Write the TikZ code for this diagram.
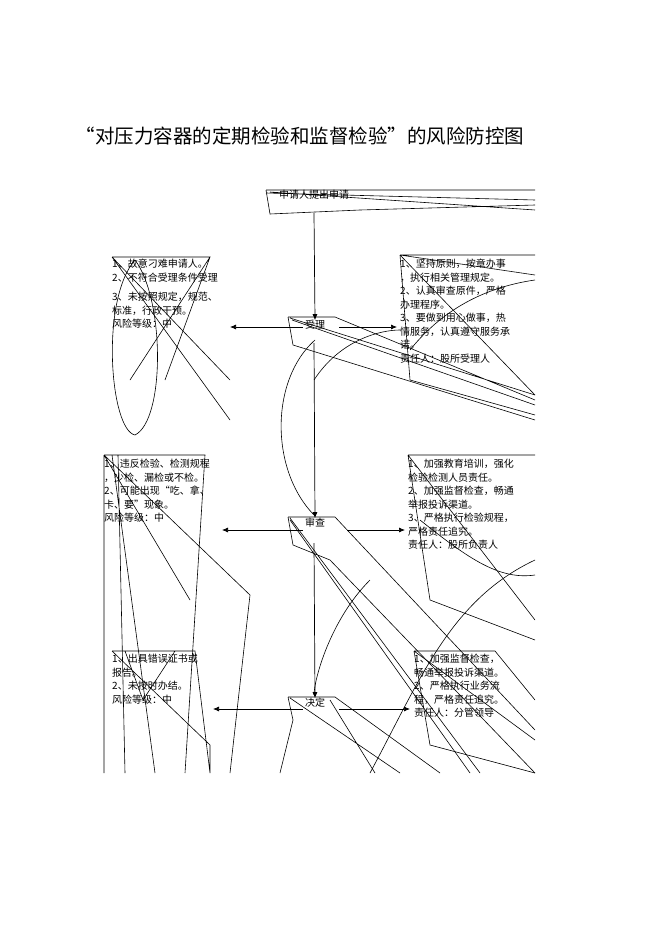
\documentclass[tikz,border=0pt]{standalone}
\usepackage{fontspec}
\setmainfont{Liberation Serif}
\newfontfamily\cjk{Noto Sans CJK SC}
\usetikzlibrary{positioning, arrows.meta}
\tikzset{
  step box/.style={inner sep=0, font=\cjk\fontsize{10}{12}\selectfont},
  risk text/.style={inner sep=0, anchor=north west, align=left,
    font=\cjk\fontsize{10}{13.5}\selectfont},
  flow/.style={-{Latex[length=6pt,width=5pt]}, line width=0.7pt},
  stray/.style={line width=0.6pt}
}
\begin{document}
\begin{tikzpicture}[x=1pt,y=-1pt]
\useasboundingbox (0,0) rectangle (662,936);

\node[inner sep=0, font=\cjk\fontsize{19.5}{21}\selectfont] (title) at (300,136)
  {“对压力容器的定期检验和监督检验”的风险防控图};

% flow steps
\node[step box] (apply) at (314,195) {申请人提出申请};
\node[step box] (accept) at (315,325) {受理};
\node[step box] (review) at (315,523) {审查};
\node[step box] (decide) at (315,703) {决定};

% risk points (left)
\node[risk text] (risk1) at (112,259) {1、故意刁难申请人。\\2、不符合受理条件受理\\[6pt]3、未按照规定，规范、\\标准，行政干预。\\风险等级：中};
\node[risk text] (risk2) at (104,459) {1、违反检验、检测规程\\，少检、漏检或不检。\\2、可能出现“吃、拿、\\卡、要”现象。\\风险等级：中};
\node[risk text] (risk3) at (112,654) {1、出具错误证书或\\报告。\\2、未按时办结。\\风险等级：中};

% control measures (right)
\node[risk text] (ctrl1) at (400,259) {1、坚持原则，按章办事\\，执行相关管理规定。\\2、认真审查原件，严格\\办理程序。\\3、要做到用心做事，热\\情服务，认真遵守服务承\\诺。\\责任人：股所受理人};
\node[risk text] (ctrl2) at (408,459) {1、加强教育培训，强化\\检验检测人员责任。\\2、加强监督检查，畅通\\举报投诉渠道。\\3、严格执行检验规程，\\严格责任追究。\\责任人：股所负责人};
\node[risk text] (ctrl3) at (414,654) {1、加强监督检查，\\畅通举报投诉渠道。\\2、严格执行业务流\\程，严格责任追究。\\责任人：分管领导};

% connectors
\coordinate (a1) at (314,213);
\coordinate (a2) at (314,343);
\coordinate (a3) at (314,543);
\coordinate (l1) at (230,327); \coordinate (r1) at (397,327);
\coordinate (l2) at (222,530); \coordinate (r2) at (405,530);
\coordinate (l3) at (213,709); \coordinate (r3) at (410,709);
\draw[flow] (a1) -- (accept.north);
\draw[flow] (a2) -- (review.north);
\draw[flow] (a3) -- (decide.north);
\draw[flow] ([xshift=-2pt,yshift=-2pt]accept.west) -- (l1);
\draw[flow] ([xshift=14pt,yshift=-2pt]accept.east) -- (r1);
\draw[flow] ([xshift=-2pt,yshift=-7pt]review.west) -- (l2);
\draw[flow] ([xshift=22pt,yshift=-7pt]review.east) -- (r2);
\draw[flow] ([xshift=-2pt,yshift=-6pt]decide.west) -- (l3);
\draw[flow] ([xshift=14pt,yshift=-6pt]decide.east) -- (r3);

% broken shape outlines
\begin{scope}
\clip (100,180) rectangle (535,773);
\draw[stray] (266,190) -- (535,190) (266,193) -- (535,200) (270,192) -- (535,210)
  (266,190) -- (270,214) -- (360,210) -- (535,205);
\draw[stray] (112,257) -- (210,257) -- (130,380) (112,257) -- (230,380)
  (112,257) -- (230,420) (210,257) -- (165,380);
\draw[stray] (135,260) .. controls (100,300) and (110,430) .. (135,435)
  .. controls (165,420) and (165,300) .. (135,260);
\draw[stray] (400,255) -- (535,255) (400,255) -- (535,395) (400,255) -- (410,380) -- (535,415)
  (400,255) -- (535,275) (410,350) .. controls (450,300) and (500,285) .. (535,280);
\draw[stray] (288,317) -- (335,317) -- (535,400) (288,317) -- (293,345) -- (535,420)
  (290,318) -- (535,395) (292,320) -- (535,405);
\draw[stray] (315,340) .. controls (270,380) and (270,470) .. (314,515)
  (314,380) .. controls (340,340) and (380,330) .. (400,330);
\draw[stray] (104,455) -- (205,455) -- (185,773) (104,455) -- (250,595) -- (230,773)
  (104,455) -- (104,773) (118,455) -- (125,773) (112,455) -- (155,773)
  (104,455) -- (190,600);
\draw[stray] (408,455) -- (535,455) (408,455) -- (535,620) (408,455) -- (430,600) -- (535,640)
  (420,520) .. controls (470,560) and (500,580) .. (535,575);
\draw[stray] (288,517) -- (335,517) -- (535,730) (288,517) -- (293,545) -- (330,560) -- (535,773)
  (290,518) -- (480,773) (290,520) -- (470,773);
\draw[stray] (370,580) .. controls (330,620) and (314,680) .. (314,695)
  (370,773) .. controls (420,680) and (450,600) .. (535,560);
\draw[stray] (112,651) -- (195,651) -- (210,773) (112,651) -- (210,745) -- (210,773)
  (125,651) -- (143,700) -- (175,651);
\draw[stray] (414,651) -- (495,651) -- (535,700) (414,651) -- (535,740)
  (414,651) -- (430,745) -- (535,773);
\draw[stray] (288,697) -- (335,697) -- (440,773) (288,697) -- (293,720) -- (280,773)
  (290,698) -- (400,773) (330,700) -- (375,773);
\end{scope}
\end{tikzpicture}
\end{document}
